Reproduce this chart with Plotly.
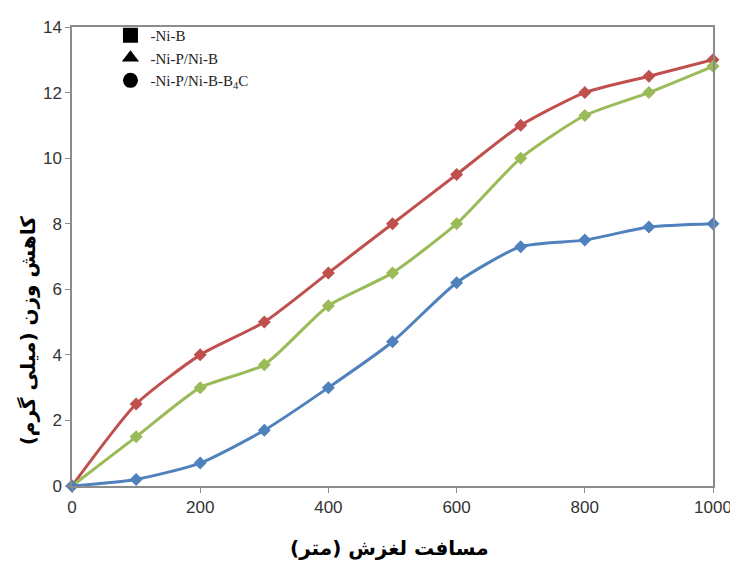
import plotly.graph_objects as go

distance = [0, 100, 200, 300, 400, 500, 600, 700, 800, 900, 1000]
ni_b = [0, 2.5, 4.0, 5.0, 6.5, 8.0, 9.5, 11.0, 12.0, 12.5, 13.0]
ni_p_ni_b = [0, 1.5, 3.0, 3.7, 5.5, 6.5, 8.0, 10.0, 11.3, 12.0, 12.8]
ni_p_ni_b_b4c = [0, 0.2, 0.7, 1.7, 3.0, 4.4, 6.2, 7.3, 7.5, 7.9, 8.0]

names = ["-Ni-B", "-Ni-P/Ni-B", "-Ni-P/Ni-B-B<sub>4</sub>C"]
legend_symbols = ["square", "triangle-up", "circle"]
colors = ["#c0504d", "#9bbb59", "#4f81bd"]
series = [ni_b, ni_p_ni_b, ni_p_ni_b_b4c]
x_title = "مسافت لغزش (متر)"
y_title = "کاهش وزن (میلی گرم)"

fig = go.Figure()
for ys, c in zip(series, colors):
    fig.add_trace(go.Scatter(
        x=distance, y=ys, mode="lines+markers",
        line=dict(color=c, width=3, shape="spline", smoothing=0.6),
        marker=dict(symbol="diamond", size=10, color=c),
        showlegend=False, cliponaxis=False,
    ))
for n, s in zip(names, legend_symbols):
    fig.add_trace(go.Scatter(
        x=[None], y=[None], mode="markers", name=n,
        marker=dict(symbol=s, size=15, color="black"),
    ))

axis_common = dict(
    showgrid=False, zeroline=False, showline=True, linecolor="#8c8c8c",
    linewidth=1.5, mirror=True, ticks="outside", ticklen=5, tickcolor="#8c8c8c",
    automargin=False,
    tickfont=dict(family="Liberation Sans", size=17, color="#333333"),
)

fig.update_layout(
    width=730, height=559,
    margin=dict(l=64, r=25, t=18, b=81),
    plot_bgcolor="white", paper_bgcolor="white",
    xaxis=dict(range=[0, 1000], dtick=200, **axis_common),
    yaxis=dict(range=[0, 14], dtick=2, **axis_common),
    legend=dict(x=0.06, y=1.015, xanchor="left", yanchor="top",
                bgcolor="rgba(0,0,0,0)", tracegroupgap=0, itemwidth=30,
                font=dict(family="Liberation Serif", size=15, color="#222222")),
    annotations=[
        dict(text="<b>" + x_title + "</b>", xref="paper", yref="paper",
             x=0.495, y=-0.135, xanchor="center", yanchor="middle", showarrow=False,
             font=dict(family="DejaVu Sans", size=20, color="black")),
        dict(text="<b>" + y_title + "</b>", xref="paper", yref="paper",
             x=-0.068, y=0.34, xanchor="center", yanchor="middle", showarrow=False,
             textangle=-90,
             font=dict(family="DejaVu Sans", size=20, color="black")),
    ],
)

fig.write_html("out.html")
